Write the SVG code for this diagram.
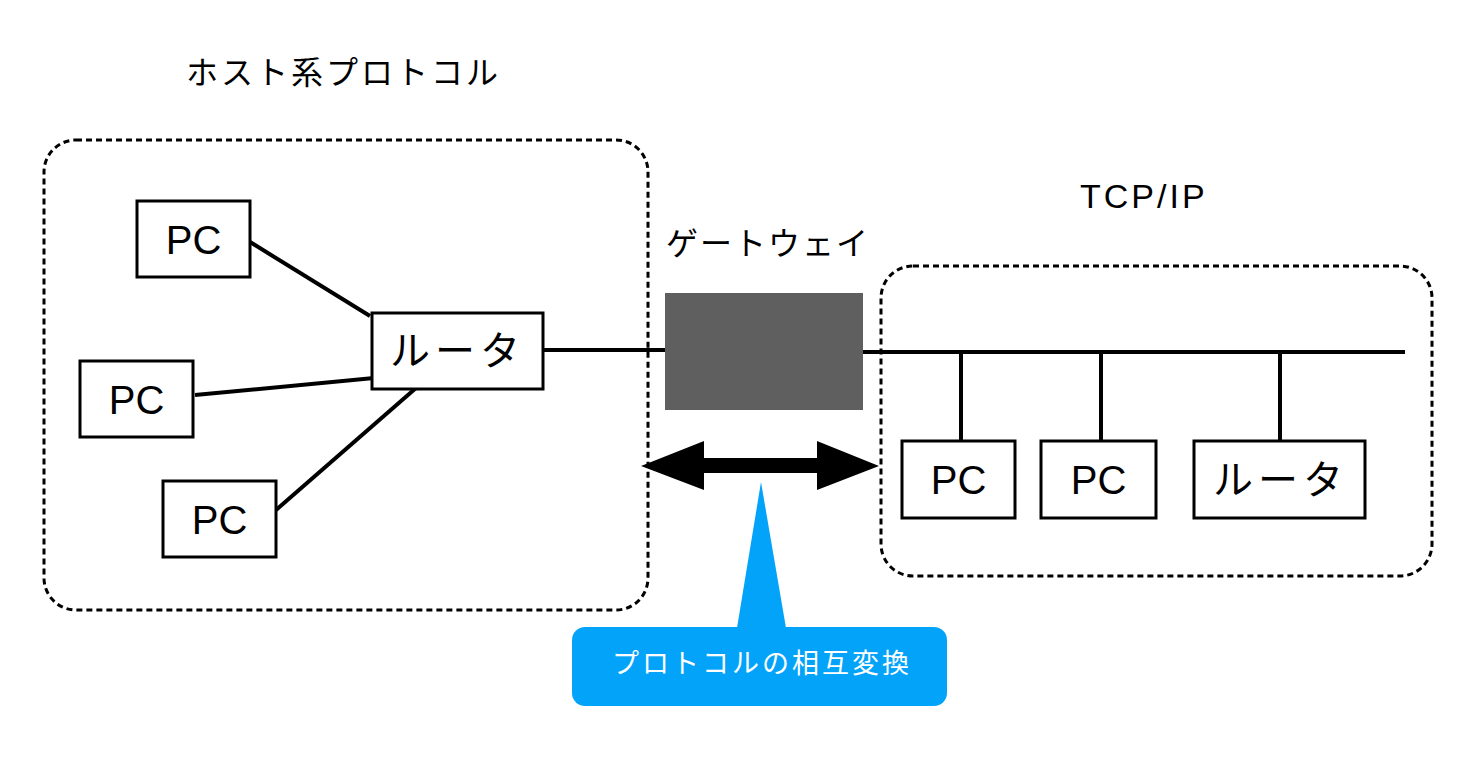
<svg xmlns="http://www.w3.org/2000/svg" width="1482" height="769" viewBox="0 0 1482 769">
<style>
.zone{fill:none;stroke:#000;stroke-width:3;stroke-dasharray:6 4}
.box{fill:#fff;stroke:#000;stroke-width:3}
.lbl{font-family:"Liberation Sans","Noto Sans CJK JP",sans-serif;font-size:40px;fill:#000;text-anchor:middle}
.jlbl{font-family:"Noto Sans CJK JP",sans-serif;font-size:40px;fill:#000;letter-spacing:5px}
.title{font-family:"Noto Sans CJK JP","Liberation Sans",sans-serif;font-size:32px;fill:#000}
.wire{stroke:#000;stroke-width:4;fill:none}
</style>
<rect width="1482" height="769" fill="#fff"/>
<g id="zone-host">
<rect class="zone" x="44" y="140" width="604" height="470" rx="32"/>
<text class="title" x="186" y="84" letter-spacing="3">ホスト系プロトコル</text>
</g>
<g id="zone-tcpip">
<rect class="zone" x="881" y="266" width="551" height="310" rx="32"/>
<text x="1080" y="208" font-family="Liberation Sans,sans-serif" font-size="34" letter-spacing="3">TCP/IP</text>
</g>
<g id="connectors">
<line class="wire" x1="250" y1="242" x2="370" y2="316"/>
<line class="wire" x1="195" y1="395" x2="374" y2="378"/>
<line class="wire" x1="276" y1="510" x2="416" y2="388"/>
<line class="wire" x1="543" y1="350" x2="666" y2="350"/>
<line class="wire" x1="862" y1="352" x2="1405" y2="352"/>
<line class="wire" x1="961" y1="352" x2="961" y2="441"/>
<line class="wire" x1="1101" y1="352" x2="1101" y2="441"/>
<line class="wire" x1="1280" y1="352" x2="1280" y2="441"/>
</g>
<g id="pc1"><rect class="box" x="137" y="201" width="113" height="76"/><text class="lbl" x="193.5" y="254">PC</text></g>
<g id="pc2"><rect class="box" x="80" y="361" width="113" height="76"/><text class="lbl" x="136.5" y="414">PC</text></g>
<g id="pc3"><rect class="box" x="163" y="481" width="113" height="76"/><text class="lbl" x="219.5" y="534">PC</text></g>
<g id="router1"><rect class="box" x="372" y="313" width="171" height="76"/><text class="jlbl" x="390" y="365">ルータ</text></g>
<g id="gateway">
<rect x="665" y="293" width="198" height="117" fill="#5f5f5f"/>
<text class="title" x="666" y="255" letter-spacing="2">ゲートウェイ</text>
</g>
<g id="pc4"><rect class="box" x="902" y="441" width="113" height="77"/><text class="lbl" x="958.5" y="494">PC</text></g>
<g id="pc5"><rect class="box" x="1041" y="441" width="115" height="77"/><text class="lbl" x="1098.5" y="494">PC</text></g>
<g id="router2"><rect class="box" x="1194" y="441" width="171" height="77"/><text class="jlbl" x="1213" y="494">ルータ</text></g>
<g id="arrow">
<polygon points="641,466 704,441 704,458 817,458 817,441 879,466 817,490 817,473 704,473 704,490" fill="#000"/>
</g>
<g id="callout">
<polygon points="761,482 786,628 737,628" fill="#03A3FA"/>
<rect x="572" y="627" width="375" height="79" rx="13" fill="#03A3FA"/>
<text x="612" y="673" font-family="Noto Sans CJK JP,sans-serif" font-size="27" fill="#fff" letter-spacing="3">プロトコルの相互変換</text>
</g>
</svg>
